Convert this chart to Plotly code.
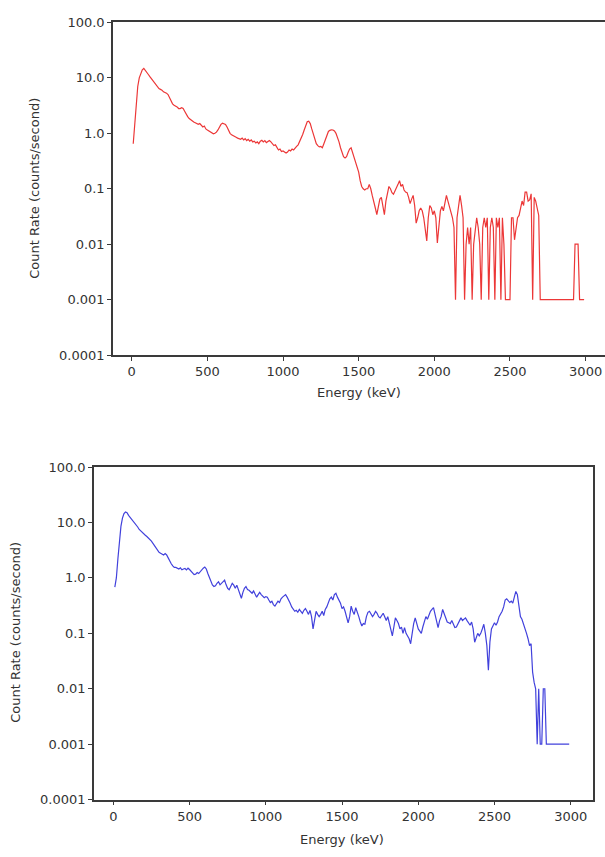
import plotly.graph_objects as go

# Energy bins (keV), 10 keV steps
energy = [10 * i for i in range(1, 300)]  # 10 .. 2990

# Count rate, top spectrum (red), blocks of 100 keV
rate_red = [
    0.65, 1.5, 4.0, 7.0, 10.0, 12.5, 14.0, 14.8, 13.8, 12.5,
    11.5, 10.5, 9.6, 8.8, 8.0, 7.3, 6.8, 6.4, 6.2, 6.0,
    5.6, 5.5, 5.3, 5.0, 4.3, 3.8, 3.4, 3.2, 3.1, 3.0,
    2.8, 2.8, 2.9, 2.8, 2.5, 2.2, 2.0, 1.85, 1.75, 1.65,
    1.6, 1.55, 1.5, 1.45, 1.5, 1.4, 1.3, 1.35, 1.2, 1.15,
    1.1, 1.05, 1.0, 0.98, 1.0, 1.05, 1.15, 1.3, 1.45, 1.52,
    1.5, 1.45, 1.3, 1.1, 1.0, 0.94, 0.9, 0.87, 0.85, 0.82,
    0.8, 0.78, 0.82, 0.76, 0.8, 0.74, 0.78, 0.72, 0.76, 0.7,
    0.72, 0.67, 0.7, 0.65, 0.72, 0.75, 0.7, 0.74, 0.68, 0.72,
    0.74, 0.7, 0.66, 0.6, 0.62, 0.55, 0.5, 0.52, 0.47, 0.48,
    0.46, 0.44, 0.46, 0.5, 0.48, 0.52, 0.5, 0.55, 0.58, 0.62,
    0.7, 0.8, 0.95, 1.15, 1.4, 1.62, 1.65, 1.5, 1.2, 0.95,
    0.75, 0.65, 0.6, 0.57, 0.58, 0.55, 0.65, 0.78, 0.95, 1.08,
    1.13, 1.16, 1.15, 1.1, 1.0, 0.85, 0.7, 0.55, 0.45, 0.38,
    0.36, 0.38, 0.45, 0.52, 0.55, 0.45, 0.34, 0.3, 0.25, 0.2,
    0.14, 0.11, 0.1, 0.095, 0.1, 0.1, 0.12, 0.1, 0.075, 0.06,
    0.045, 0.034, 0.05, 0.065, 0.07, 0.05, 0.034, 0.06, 0.09, 0.11,
    0.1, 0.085, 0.08, 0.09, 0.1, 0.12, 0.14, 0.11, 0.12, 0.095,
    0.087, 0.085, 0.07, 0.054, 0.065, 0.076, 0.05, 0.024, 0.03, 0.04,
    0.045, 0.04, 0.03, 0.02, 0.0115, 0.03, 0.05, 0.045, 0.034, 0.04,
    0.03, 0.0105, 0.025, 0.04, 0.048, 0.04, 0.055, 0.076, 0.06, 0.048,
    0.04, 0.03, 0.02, 0.001, 0.03, 0.05, 0.076, 0.05, 0.03, 0.001,
    0.01, 0.02, 0.01, 0.02, 0.001, 0.01, 0.02, 0.03, 0.02, 0.01,
    0.001, 0.02, 0.03, 0.02, 0.03, 0.001, 0.02, 0.03, 0.02, 0.001,
    0.03, 0.02, 0.03, 0.001, 0.03, 0.01, 0.001, 0.001, 0.001, 0.001,
    0.03, 0.03, 0.012, 0.02, 0.03, 0.033, 0.045, 0.06, 0.05, 0.087,
    0.087, 0.06, 0.063, 0.081, 0.001, 0.07, 0.06, 0.045, 0.033, 0.001,
    0.001, 0.001, 0.001, 0.001, 0.001, 0.001, 0.001, 0.001, 0.001, 0.001,
    0.001, 0.001, 0.001, 0.001, 0.001, 0.001, 0.001, 0.001, 0.001, 0.001,
    0.001, 0.001, 0.01, 0.01, 0.01, 0.001, 0.001, 0.001, 0.001,
]

# Count rate, bottom spectrum (blue)
rate_blue = [
    0.68, 1.0, 2.2, 4.5, 8.5, 12.0, 14.5, 15.5, 15.0, 13.5,
    12.5, 11.5, 10.5, 9.8, 9.0, 8.3, 7.5, 7.0, 6.6, 6.2,
    5.9, 5.6, 5.3, 5.0, 4.6, 4.2, 3.8, 3.4, 3.1, 2.9,
    2.8, 2.7, 2.6, 2.75, 2.6, 2.3, 2.0, 1.8, 1.65, 1.55,
    1.55, 1.5, 1.45, 1.52, 1.4, 1.45, 1.48, 1.4, 1.5, 1.42,
    1.3, 1.2, 1.15, 1.17, 1.25, 1.2, 1.3, 1.4, 1.5, 1.57,
    1.45, 1.2, 1.0, 0.85, 0.75, 0.7, 0.72, 0.8, 0.85, 0.75,
    0.8, 0.85, 0.91, 0.75, 0.65, 0.61, 0.7, 0.8, 0.74, 0.65,
    0.74, 0.6, 0.5, 0.43, 0.55, 0.65, 0.7, 0.62, 0.6, 0.55,
    0.53, 0.58, 0.5, 0.45, 0.5, 0.55, 0.5, 0.47, 0.44, 0.46,
    0.45, 0.4, 0.36, 0.38, 0.33, 0.31, 0.35, 0.38, 0.36, 0.42,
    0.45, 0.48, 0.5, 0.45, 0.38, 0.35, 0.3, 0.28, 0.25, 0.26,
    0.24, 0.27, 0.25, 0.23, 0.26, 0.28, 0.25, 0.22, 0.26, 0.2,
    0.12, 0.18, 0.25, 0.22, 0.2, 0.22, 0.25, 0.21, 0.27, 0.3,
    0.36, 0.42, 0.45, 0.4, 0.5, 0.53, 0.45, 0.4, 0.35, 0.28,
    0.3, 0.25, 0.2, 0.155, 0.2, 0.31, 0.25, 0.22, 0.29, 0.25,
    0.2, 0.16, 0.136, 0.15, 0.146, 0.2, 0.24, 0.25, 0.22, 0.2,
    0.22, 0.25, 0.23, 0.2, 0.19, 0.21, 0.23, 0.2, 0.17, 0.2,
    0.15, 0.12, 0.09, 0.13, 0.19, 0.17, 0.15, 0.12, 0.13, 0.1,
    0.127, 0.1, 0.09, 0.08, 0.065, 0.1, 0.15, 0.19, 0.15, 0.12,
    0.11, 0.1, 0.13, 0.16, 0.2, 0.18, 0.22, 0.25, 0.27, 0.29,
    0.22, 0.16, 0.127, 0.17, 0.2, 0.27, 0.22, 0.18, 0.16, 0.155,
    0.15, 0.17, 0.14, 0.127, 0.13, 0.15, 0.17, 0.19, 0.17, 0.18,
    0.19, 0.17, 0.155, 0.14, 0.16, 0.12, 0.069, 0.08, 0.1, 0.09,
    0.1, 0.12, 0.146, 0.1, 0.06, 0.0216, 0.07, 0.12, 0.14, 0.155,
    0.14, 0.16, 0.2, 0.22, 0.25, 0.3, 0.4, 0.42, 0.38, 0.36,
    0.38, 0.35, 0.45, 0.57, 0.5, 0.3, 0.2, 0.18, 0.15, 0.13,
    0.1, 0.08, 0.06, 0.065, 0.02, 0.013, 0.01, 0.001, 0.01, 0.001,
    0.001, 0.01, 0.01, 0.001, 0.001, 0.001, 0.001, 0.001, 0.001, 0.001,
    0.001, 0.001, 0.001, 0.001, 0.001, 0.001, 0.001, 0.001, 0.001,
]

x_ticks = [0, 500, 1000, 1500, 2000, 2500, 3000]
y_ticks = [0.0001, 0.001, 0.01, 0.1, 1, 10, 100]
y_tick_labels = ["0.0001", "0.001", "0.01", "0.1", "1.0", "10.0", "100.0"]
x_title = "Energy (keV)"
y_title = "Count Rate (counts/second)"

W, H = 605, 857
FONT = "DejaVu Sans"
AX = "#3a3a3a"
TXT = "#333333"

fig = go.Figure()
fig.add_trace(go.Scatter(x=energy, y=rate_red, mode="lines",
                         line=dict(color="rgb(236,55,55)", width=1.2),
                         xaxis="x", yaxis="y", showlegend=False))
fig.add_trace(go.Scatter(x=energy, y=rate_blue, mode="lines",
                         line=dict(color="rgb(65,65,220)", width=1.2),
                         xaxis="x2", yaxis="y2", showlegend=False))

def xaxis_cfg(domain, rng):
    return dict(domain=domain, range=rng, tickvals=x_ticks,
                ticks="outside", ticklen=4, tickwidth=1.2, tickcolor=AX,
                showline=True, linecolor=AX, linewidth=1.6, mirror=True,
                showgrid=False, zeroline=False,
                tickfont=dict(family=FONT, size=13, color=TXT))

def yaxis_cfg(domain, mirror):
    return dict(domain=domain, type="log", range=[-4, 2],
                tickvals=y_ticks, ticktext=y_tick_labels,
                ticks="outside", ticklen=4, tickwidth=1.2, tickcolor=AX,
                showline=True, linecolor=AX, linewidth=1.6, mirror=mirror,
                showgrid=False, zeroline=False,
                tickfont=dict(family=FONT, size=13, color=TXT))

# Panel frames in page pixels (top panel frame runs off the right edge)
top_x0, top_y0, top_y1 = 113, 15.7, 354.3
bot_x0, bot_x1, bot_y0, bot_y1 = 94, 593.3, 468.3, 806.7

fig.update_layout(
    width=W, height=H,
    margin=dict(l=0, r=0, t=0, b=0),
    paper_bgcolor="white", plot_bgcolor="white",
    xaxis=xaxis_cfg([top_x0 / W, 1.0], [-123.6, 3128]) | dict(anchor="y"),
    yaxis=yaxis_cfg([1 - top_y1 / H, 1 - top_y0 / H], False) | dict(anchor="x"),
    xaxis2=xaxis_cfg([bot_x0 / W, bot_x1 / W], [-126.6, 3148]) | dict(anchor="y2"),
    yaxis2=yaxis_cfg([1 - bot_y1 / H, 1 - bot_y0 / H], True) | dict(anchor="x2"),
)

ann_font = dict(family=FONT, size=13, color=TXT)
fig.add_annotation(text=x_title, x=(131.7 + 1500 * 0.1513) / W, y=1 - 392 / H,
                   xref="paper", yref="paper", showarrow=False, font=ann_font,
                   xanchor="center", yanchor="middle")
fig.add_annotation(text=y_title, x=35 / W, y=1 - 185 / H, textangle=-90,
                   xref="paper", yref="paper", showarrow=False, font=ann_font,
                   xanchor="center", yanchor="middle")
fig.add_annotation(text=x_title, x=(113.3 + 1500 * 0.15247) / W, y=1 - 847 / H,
                   xref="paper", yref="paper", showarrow=False, font=ann_font,
                   xanchor="center", yanchor="middle")
fig.add_annotation(text=y_title, x=16 / W, y=1 - 637 / H, textangle=-90,
                   xref="paper", yref="paper", showarrow=False, font=ann_font,
                   xanchor="center", yanchor="middle")

fig.write_html(
    "out.html",
    config={"displayModeBar": False},
    post_script="document.body.style.margin='0';document.body.style.overflow='hidden';",
)
